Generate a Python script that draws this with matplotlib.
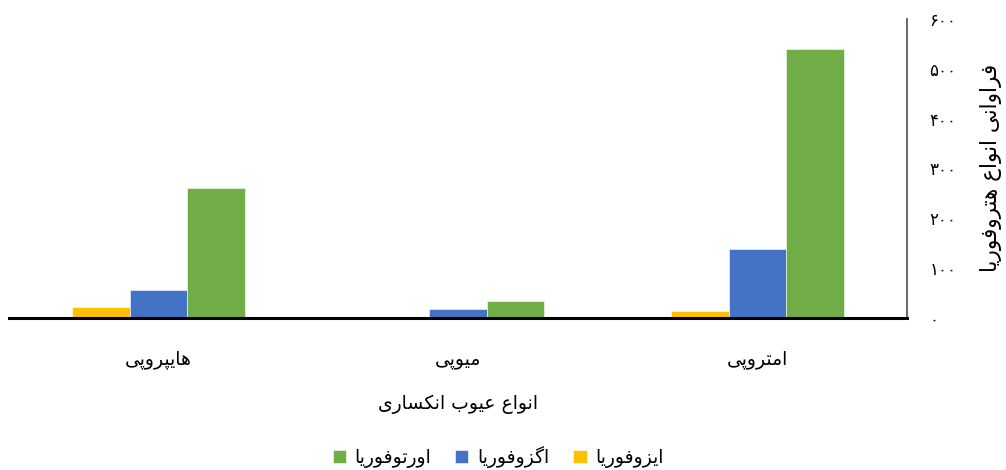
import matplotlib
matplotlib.use("Agg")
import matplotlib.pyplot as plt
import numpy as np

# ---------------- data ----------------
categories = ["هایپروپی", "میوپی", "امتروپی"]          # left -> right as drawn
series_names = ["ایزوفوریا", "اگزوفوریا", "اورتوفوریا"]
esophoria = [21, 2, 14]        # ایزوفوریا
exophoria = [55, 17, 138]      # اگزوفوریا
orthophoria = [261, 34, 540]   # اورتوفوریا
y_ticks = [0, 100, 200, 300, 400, 500, 600]
y_tick_labels = ["۰", "۱۰۰", "۲۰۰", "۳۰۰", "۴۰۰", "۵۰۰", "۶۰۰"]
x_title = "انواع عیوب انکساری"
y_title = "فراوانی انواع هتروفوریا"

colors = ["#FFC000", "#4472C4", "#70AD47"]

# ---------------- minimal Arabic/Persian shaping (matplotlib has no shaping) ----------------
# isolated, final, initial, medial
FORMS = {
    "\u0627": ("\uFE8D", "\uFE8E", None, None),        # ا
    "\u0628": ("\uFE8F", "\uFE90", "\uFE91", "\uFE92"),  # ب
    "\u067E": ("\uFB56", "\uFB57", "\uFB58", "\uFB59"),  # پ
    "\u062A": ("\uFE95", "\uFE96", "\uFE97", "\uFE98"),  # ت
    "\u0631": ("\uFEAD", "\uFEAE", None, None),        # ر
    "\u0632": ("\uFEAF", "\uFEB0", None, None),        # ز
    "\u0633": ("\uFEB1", "\uFEB2", "\uFEB3", "\uFEB4"),  # س
    "\u0639": ("\uFEC9", "\uFECA", "\uFECB", "\uFECC"),  # ع
    "\u0641": ("\uFED1", "\uFED2", "\uFED3", "\uFED4"),  # ف
    "\u06A9": ("\uFB8E", "\uFB8F", "\uFB90", "\uFB91"),  # ک
    "\u06AF": ("\uFB92", "\uFB93", "\uFB94", "\uFB95"),  # گ
    "\u0645": ("\uFEE1", "\uFEE2", "\uFEE3", "\uFEE4"),  # م
    "\u0646": ("\uFEE5", "\uFEE6", "\uFEE7", "\uFEE8"),  # ن
    "\u0648": ("\uFEED", "\uFEEE", None, None),        # و
    "\u0647": ("\uFEE9", "\uFEEA", "\uFEEB", "\uFEEC"),  # ه
    "\u06CC": ("\uFBFC", "\uFBFD", "\uFBFE", "\uFBFF"),  # ی
}


def rtl(text):
    chars = list(text)
    out = []
    for i, c in enumerate(chars):
        if c not in FORMS:
            out.append(c)
            continue
        prev = chars[i - 1] if i > 0 else None
        nxt = chars[i + 1] if i + 1 < len(chars) else None
        iso, fin, ini, med = FORMS[c]
        join_prev = prev in FORMS and FORMS[prev][2] is not None
        join_next = nxt in FORMS and ini is not None
        if join_prev and join_next:
            out.append(med)
        elif join_prev:
            out.append(fin)
        elif join_next:
            out.append(ini)
        else:
            out.append(iso)
    return "".join(reversed(out))


plt.rcParams["font.family"] = ["DejaVu Sans"]

fig = plt.figure(figsize=(10.06, 4.70), dpi=100)
L, R, B, T = 9 / 1006, 907 / 1006, 1 - 317.7 / 470, 1 - 19 / 470
ax = fig.add_axes([L, B, R - L, T - B])

x = np.arange(len(categories))
w = 0.192
series = [esophoria, exophoria, orthophoria]
for k, (vals, col, name) in enumerate(zip(series, colors, series_names)):
    ax.bar(x + (k - 1) * w, vals, width=w, color=col, label=rtl(name),
           edgecolor="white", linewidth=0.4, zorder=2)

ax.set_xlim(-0.5, len(categories) - 0.5)
ax.set_ylim(0, 600)

ax.set_xticks(x, [rtl(c) for c in categories])
ax.tick_params(axis="x", length=0, pad=23, labelsize=13.5)
ax.set_yticks(y_ticks, y_tick_labels)
ax.yaxis.tick_right()
ax.tick_params(axis="y", length=0, pad=16, labelsize=12)

for s in ["top", "left"]:
    ax.spines[s].set_visible(False)
ax.spines["right"].set_color("#595959")
ax.spines["right"].set_linewidth(1.3)
ax.spines["bottom"].set_color("black")
ax.spines["bottom"].set_linewidth(2.2)
ax.spines["bottom"].set_zorder(3)

ax.set_xlabel(rtl(x_title), fontsize=13.5, labelpad=19)
ax.yaxis.set_label_position("right")
ax.set_ylabel(rtl(y_title), fontsize=15.5, rotation=90, labelpad=17)

handles, labels = ax.get_legend_handles_labels()
fig.legend(handles[::-1], labels[::-1], loc="center", bbox_to_anchor=(498 / 1006, 1 - 457 / 470),
           ncol=3, frameon=False, fontsize=13.5, handlelength=0.7, handleheight=0.7,
           handletextpad=0.45, columnspacing=1.3)

fig.savefig("out.png", dpi=100)
